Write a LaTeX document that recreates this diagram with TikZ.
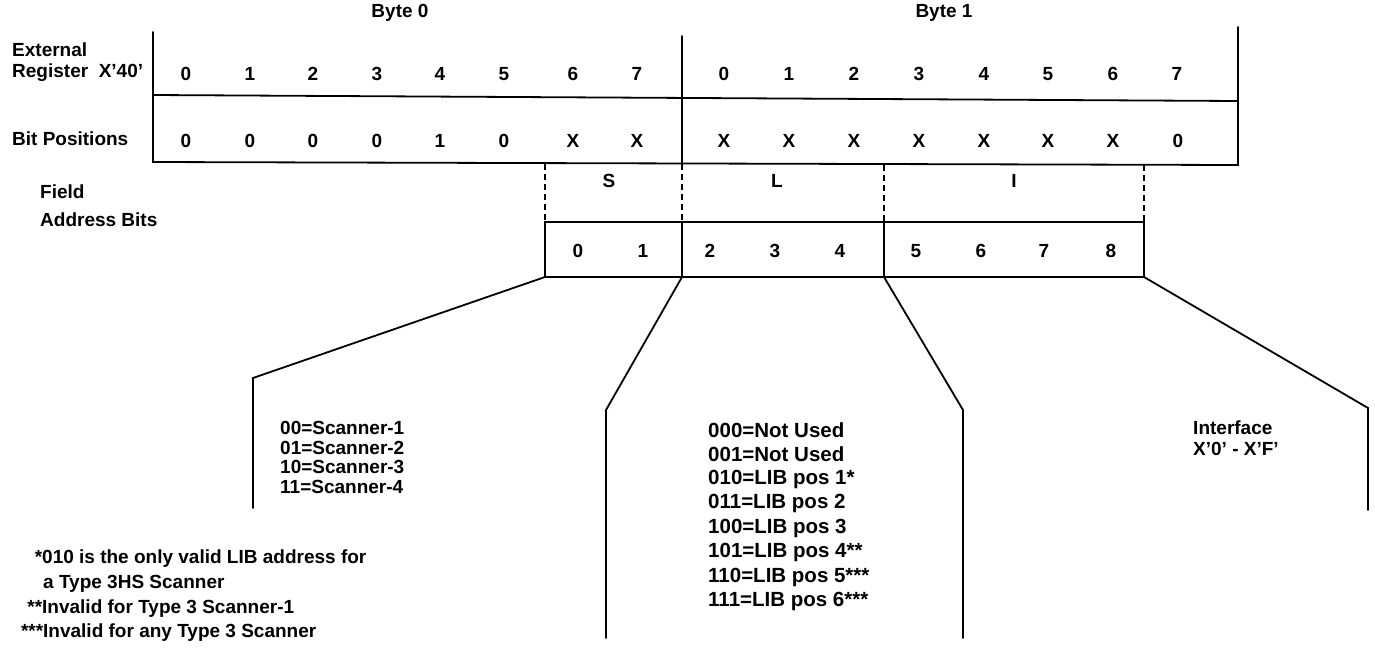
\documentclass[tikz,border=0pt]{standalone}
\usepackage{fontspec}
\setmainfont{Liberation Sans}
\begin{document}
\begin{tikzpicture}[x=1pt,y=-1pt,
  txt/.style={font=\fontsize{19}{20}\selectfont\bfseries, inner sep=0pt},
  ltxt/.style={txt, anchor=west},
  bigtxt/.style={ltxt, font=\fontsize{20.5}{22}\selectfont\bfseries},
  frame/.style={line width=1.8pt, line cap=round, line join=miter},
  sepline/.style={line width=1.5pt, dash pattern=on 6pt off 4pt}]
\useasboundingbox (0,0) rectangle (1375,649);
% register frame
\coordinate (tl) at (153,32);
\coordinate (tr) at (1238,27);
\coordinate (ml) at (153,95);
\coordinate (mr) at (1238,101);
\coordinate (bl) at (153,162);
\coordinate (br) at (1238,165);
\coordinate (mt) at (682,36);
\coordinate (mb) at (682,163);
\draw[frame] (tl) -- (bl) -- (br) -- (tr);
\draw[frame] (ml) -- (mr);
\draw[frame] (mt) -- (mb);
% headers
\node[txt] (byte0) at (400,13) {Byte 0};
\node[txt] (byte1) at (944,13) {Byte 1};
\node[ltxt] (ext) at (12,50) {External};
\node[ltxt] (reg) at (12,73) {Register\ \ X’40’};
\node[ltxt] (bitpos) at (12,139) {Bit Positions};
\node[ltxt] (field) at (40,192) {Field};
\node[ltxt] (addr) at (40,220) {Address Bits};
% bit numbers
\foreach \x/\v [count=\i] in {186/0,250/1,313/2,377/3,440/4,504/5,573/6,637/7,724/0,789/1,854/2,919/3,984/4,1048/5,1113/6,1177/7}
  \node[txt] (n\i) at (\x,74) {\v};
\foreach \x/\v [count=\i] in {186/0,250/0,313/0,377/0,440/1,504/0,573/X,637/X,724/X,789/X,854/X,919/X,984/X,1048/X,1113/X,1178/0}
  \node[txt] (b\i) at (\x,141) {\v};
% dashed field separators
\coordinate (d1t) at (545,164); \coordinate (d1b) at (545,222);
\coordinate (d2t) at (682,164); \coordinate (d2b) at (682,222);
\coordinate (d3t) at (884,165); \coordinate (d3b) at (884,222);
\coordinate (d4t) at (1144,165); \coordinate (d4b) at (1144,222);
\foreach \k in {1,...,4} \draw[sepline] (d\k t) -- (d\k b);
\node[txt] (fS) at (609,181) {S};
\node[txt] (fL) at (777,181) {L};
\node[txt] (fI) at (1014,181) {I};
% address bits box
\coordinate (a1) at (545,277); \coordinate (a2) at (682,277);
\coordinate (a3) at (884,277); \coordinate (a4) at (1144,277);
\draw[frame] (d1b) rectangle (a4);
\draw[frame] (d2b) -- (a2);
\draw[frame] (d3b) -- (a3);
\foreach \x/\v [count=\i] in {578/0,643/1,710/2,775/3,840/4,916/5,981/6,1044/7,1111/8}
  \node[txt] (ab\i) at (\x,251) {\v};
% fan lines
\coordinate (f1a) at (253,378); \coordinate (f1b) at (253,508);
\coordinate (f2a) at (606,410); \coordinate (f2b) at (606,638);
\coordinate (f3a) at (963,410); \coordinate (f3b) at (963,638);
\coordinate (f4a) at (1368,408); \coordinate (f4b) at (1368,510);
\draw[frame] (a1) -- (f1a) -- (f1b);
\draw[frame] (a2) -- (f2a) -- (f2b);
\draw[frame] (a3) -- (f3a) -- (f3b);
\draw[frame] (a4) -- (f4a) -- (f4b);
% S values
\foreach \t [count=\i] in {00=Scanner-1,01=Scanner-2,10=Scanner-3,11=Scanner-4}
  \node[ltxt] (s\i) at (280,408.5+19.6*\i) {\t};
% L values
\foreach \t [count=\i] in {000=Not Used,001=Not Used,010=LIB pos 1*,011=LIB pos 2,100=LIB pos 3,101=LIB pos 4**,110=LIB pos 5***,111=LIB pos 6***}
  \node[bigtxt] (l\i) at (708,405.5+24.5*\i) {\t};
% I values
\node[ltxt] (if1) at (1193,428) {Interface};
\node[ltxt] (if2) at (1193,449) {X’0’ - X’F’};
% footnotes
\node[ltxt] (fn1) at (42,559) {\llap{*}010 is the only valid LIB address for};
\node[ltxt] (fn2) at (43,584) {a Type 3HS Scanner};
\node[ltxt] (fn3) at (42,609) {\llap{**}Invalid for Type 3 Scanner-1};
\node[ltxt] (fn4) at (43,633) {\llap{***}Invalid for any Type 3 Scanner};
\end{tikzpicture}
\end{document}
